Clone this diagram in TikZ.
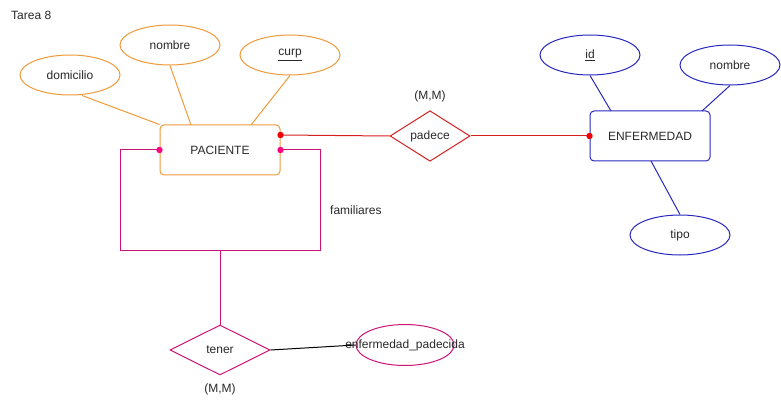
\documentclass[tikz,border=0pt]{standalone}
\usepackage{fontspec}
\setmainfont{Liberation Sans}
\usetikzlibrary{shapes.geometric}
\definecolor{orC}{RGB}{238,154,58}
\definecolor{rdC}{RGB}{214,32,32}
\definecolor{rdD}{RGB}{240,0,0}
\definecolor{mgC}{RGB}{204,20,120}
\definecolor{mgD}{RGB}{255,0,128}
\definecolor{blC}{RGB}{40,40,190}
\definecolor{txC}{RGB}{40,40,40}
\begin{document}
\begin{tikzpicture}[x=1pt,y=-1pt,
  every node/.style={font=\fontsize{12pt}{14pt}\selectfont, text=txC},
  attr/.style={ellipse, draw, line width=1pt, minimum width=100pt, minimum height=40pt, inner sep=0pt},
  ent/.style={rectangle, rounded corners=4pt, draw, line width=1pt, minimum width=120pt, minimum height=50pt, inner sep=0pt},
  rel/.style={diamond, draw, line width=1pt, inner sep=0pt},
  plain/.style={inner sep=0pt},
  conn/.style={line width=1pt}]
\useasboundingbox (0,0) rectangle (781,406);
\node[plain, anchor=west] (title) at (11,15) {Tarea 8};
% PACIENTE
\node[ent, draw=orC] (pac) at (220,150) {PACIENTE};
\node[attr, draw=orC] (dom) at (70,75) {domicilio};
\node[attr, draw=orC] (nom1) at (170,45) {nombre};
\node[attr, draw=orC] (curp) at (290,55) {\underline{curp}};
\draw[conn, orC] (dom.south) ++(12,0) coordinate (domS);
\draw[conn, orC] (domS) -- (pac.north west);
\coordinate (nomS) at (171,65);
\coordinate (pacN1) at (191,125);
\draw[conn, orC] (nom1.south) -- (pacN1);
\coordinate (pacN2) at (251,125);
\draw[conn, orC] (curp.south) -- (pacN2);
% padece
\node[rel, draw=rdC, minimum width=80pt, minimum height=50pt] (pad) at (430,136) {padece};
\node[plain] (mm1) at (430,96) {(M,M)};
% ENFERMEDAD
\node[ent, draw=blC] (enf) at (650,136) {ENFERMEDAD};
\node[attr, draw=blC] (id) at (590,55) {\underline{id}};
\node[attr, draw=blC] (nom2) at (730,65) {nombre};
\node[attr, draw=blC] (tipo) at (680,235) {tipo};
\coordinate (enfN1) at (611,111);
\coordinate (enfN2) at (702,111);
\coordinate (enfS) at (651,161);
\draw[conn, blC] (id.south) -- (enfN1);
\draw[conn, blC] (nom2.south) -- (enfN2);
\draw[conn, blC] (tipo.north) -- (enfS);
% red relation lines
\coordinate (pacR) at ([yshift=15pt]pac.east);
\draw[conn, rdC] (pacR) -- (pad.west);
\draw[conn, rdC] (pad.east) -- (enf.west);
\fill[rdD] (pacR) circle (3.2pt);
\fill[rdD] (enf.west) circle (3.2pt);
% recursive loop
\coordinate (loopL) at (120,250);
\coordinate (loopR) at (320,250);
\coordinate (loopM) at (220,250);
\node[rel, draw=mgC, minimum width=100pt, minimum height=50pt] (ten) at (220,350) {tener};
\draw[conn, mgC] (pac.west) -| (loopL) -- (loopR) |- (pac.east);
\draw[conn, mgC] (loopM) -- (ten.north);
\fill[mgD] (pac.west) circle (3.2pt);
\fill[mgD] (pac.east) circle (3.2pt);
\node[plain, anchor=west] (fam) at (330,210) {familiares};
\node[plain] (mm2) at (220,389) {(M,M)};
\node[attr, draw=mgC, minimum width=98pt, minimum height=41pt] (ep) at (405,345) {\makebox[0pt]{enfermedad\_padecida}};
\draw[conn, black] (ten.east) -- (ep.west);
\end{tikzpicture}
\end{document}
